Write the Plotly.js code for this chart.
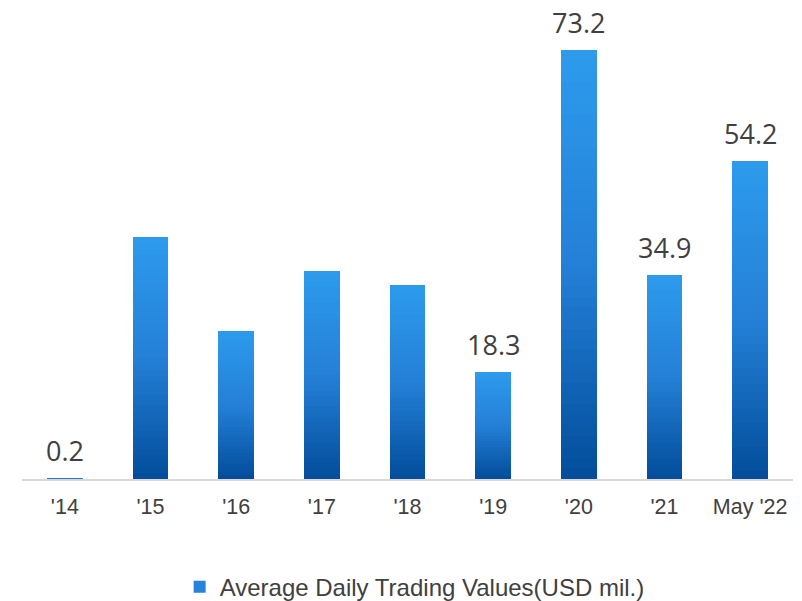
<!DOCTYPE html>
<html>
<head>
<meta charset="utf-8">
<script src="https://cdn.plot.ly/plotly-3.0.1.min.js"></script>
<style>html,body{margin:0;padding:0;background:#fff;}#chart{width:802px;height:601px;}</style>
</head>
<body>
<div id="chart"></div>
<script>
// ---- data ----
var categories = ["'14", "'15", "'16", "'17", "'18", "'19", "'20", "'21", "May '22"];
var values = [0.2, 41.3, 25.3, 35.5, 33.1, 18.3, 73.2, 34.9, 54.2];
var valueLabels = ["0.2", "", "", "", "", "18.3", "73.2", "34.9", "54.2"];
var seriesName = "Average Daily Trading Values(USD mil.)";

// ---- gradient styling (each bar drawn as stacked slices) ----
var N = 40;
var bottomColor = [2, 76, 155];
var midColor = [36, 128, 214];
var topColor = [45, 155, 237];
function mix(a, b, t) {
  return 'rgb(' + a.map(function (v, i) { return Math.round(v + (b[i] - v) * t); }).join(',') + ')';
}
function colorAt(f) { // f: 0 bottom -> 1 top
  if (f < 0.5) return mix(bottomColor, midColor, f / 0.5);
  return mix(midColor, topColor, (f - 0.5) / 0.5);
}
var traces = [];
for (var k = 0; k < N; k++) {
  var f = (k + 0.5) / N;
  traces.push({
    type: 'bar',
    x: categories,
    y: values.map(function (v) { return v / N; }),
    marker: { color: colorAt(f), line: { width: 0 } },
    name: seriesName,
    showlegend: k === Math.floor(N * 0.55),
    hoverinfo: 'skip'
  });
}

var annotations = categories.map(function (c, i) {
  return {
    x: c, y: values[i], xref: 'x', yref: 'y',
    text: valueLabels[i], showarrow: false,
    yanchor: 'bottom', yshift: 7,
    font: { family: 'Open Sans, sans-serif', size: 27, color: '#404040' }
  };
});

var layout = {
  width: 802, height: 601,
  margin: { l: 22, r: 9, t: 22, b: 122 },
  paper_bgcolor: '#ffffff', plot_bgcolor: '#ffffff',
  barmode: 'stack',
  bargap: 0.58,
  xaxis: {
    type: 'category',
    showline: true, linecolor: '#d9d9d9', linewidth: 1.5,
    ticks: '', showgrid: false, zeroline: false,
    ticklabelstandoff: 8,
    tickfont: { family: 'Liberation Sans, Arial, sans-serif', size: 21.5, color: '#404040' }
  },
  yaxis: {
    range: [0, 78], visible: false, showgrid: false, zeroline: false, fixedrange: true
  },
  showlegend: true,
  legend: {
    orientation: 'h', xref: 'container', yref: 'container',
    x: 0.224, xanchor: 'left', y: 0.023, yanchor: 'middle',
    font: { family: 'Liberation Sans, Arial, sans-serif', size: 24, color: '#404040' },
    itemwidth: 30
  },
  annotations: annotations
};

Plotly.newPlot('chart', traces, layout, { displayModeBar: false, staticPlot: true });
</script>
</body>
</html>
